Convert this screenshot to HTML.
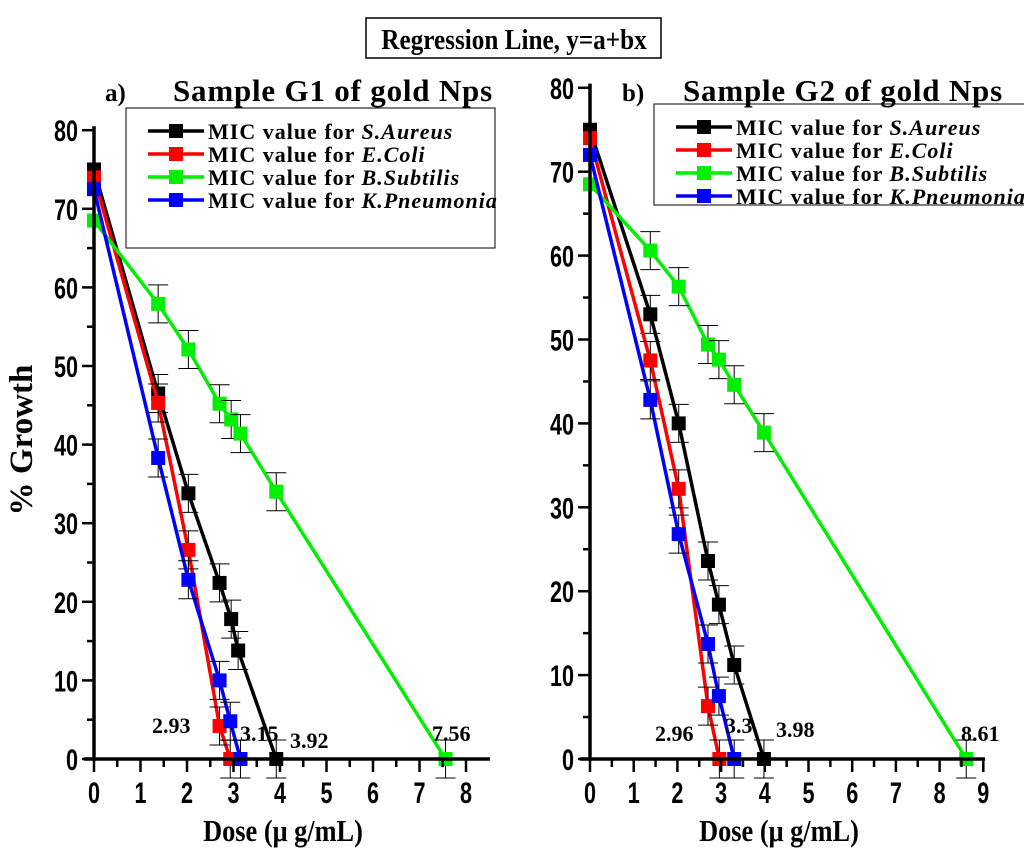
<!DOCTYPE html>
<html><head><meta charset="utf-8">
<style>
body{margin:0;background:#fff;}
svg{display:block;font-family:"Liberation Serif",serif;}
.tk{font-family:"Liberation Sans",sans-serif;font-weight:bold;font-size:30px;}
</style></head>
<body>
<svg id="c" width="1024" height="853" viewBox="0 0 1024 853">
<rect x="366" y="18" width="295" height="40" fill="#fff" stroke="#000" stroke-width="1.5"/>
<text x="0" y="0" transform="translate(514,49) scale(0.9,1)" text-anchor="middle" font-size="28" font-weight="bold">Regression Line,  y=a+bx</text>
<text x="32" y="440" transform="rotate(-90 32 440)" text-anchor="middle" font-size="33" font-weight="bold">% Growth</text>
</svg>
<script>
const species=["S.Aureus","E.Coli","B.Subtilis","K.Pneumonia"];
const colors=["#000000","#ff0000","#00ee00","#0000ff"];
const g1Black=[[0,75],[1.38,46.5],[2.03,33.8],[2.7,22.4],[2.95,17.8],[3.1,13.8],[3.92,0]];
const g1Red=[[0,74],[1.38,45.3],[2.03,26.6],[2.7,4.2],[2.93,0]];
const g1Green=[[0,68.5],[1.38,57.9],[2.03,52.1],[2.7,45.2],[2.95,43.2],[3.15,41.4],[3.92,34],[7.56,0]];
const g1Blue=[[0,72.5],[1.38,38.3],[2.03,22.8],[2.7,10],[2.93,4.8],[3.15,0]];
const g2Black=[[0,75],[1.38,53],[2.03,40],[2.7,23.6],[2.95,18.4],[3.3,11.2],[3.98,0]];
const g2Red=[[0,74],[1.38,47.5],[2.03,32.2],[2.7,6.3],[2.96,0]];
const g2Green=[[0,68.5],[1.38,60.6],[2.03,56.3],[2.7,49.4],[2.95,47.6],[3.3,44.6],[3.98,38.9],[8.61,0]];
const g2Blue=[[0,72],[1.38,42.8],[2.03,26.8],[2.7,13.7],[2.95,7.5],[3.3,0]];
const g1Mic=["2.93","3.15","3.92","7.56"];
const g2Mic=["2.96","3.3","3.98","8.61"];
const yTicks=[0,10,20,30,40,50,60,70,80];
const g1XTicks=[0,1,2,3,4,5,6,7,8];
const g2XTicks=[0,1,2,3,4,5,6,7,8,9];

const NS="http://www.w3.org/2000/svg";
const svg=document.getElementById('c');
function mk(tag,at,parent){const e=document.createElementNS(NS,tag);for(const k in at)e.setAttribute(k,at[k]);(parent||svg).appendChild(e);return e;}

function panel(o){
  const g=mk('g',{});
  
  
  const X=v=>o.x0+v*o.xs, Y=v=>o.y0-v*o.ys;
  const L=o.leg;
  const lb=mk('rect',{x:L.x,y:L.y,width:L.w,height:L.h,fill:'#fff',stroke:'#000','stroke-width':1},g);
  
  
  species.forEach((sp,i)=>{
    const yy=L.y+23+i*23;
    const en=mk('g',{},g);
    
    
    mk('line',{x1:L.x+22,x2:L.x+78,y1:yy,y2:yy,stroke:colors[i],'stroke-width':3.5},en);
    mk('rect',{x:L.x+43,y:yy-7,width:14,height:14,fill:colors[i]},en);
    const t=mk('text',{x:L.x+82,y:yy+8,'font-size':22,'font-weight':'bold','letter-spacing':1.0},en);
    t.innerHTML='MIC value for <tspan font-style="italic">'+sp+'</tspan>';
  });
  o.series.forEach((s,si)=>{
    const pts=s.map(p=>X(p[0])+','+Y(p[1])).join(' ');
    const l=mk('polyline',{points:pts,fill:'none',stroke:colors[si],'stroke-width':3.5},g);
    
    
    s.forEach((p,pi)=>{
      if(pi>0){
        const eb=mk('path',{d:`M${X(p[0])},${Y(p[1])-19}V${Y(p[1])+19}M${X(p[0])-10},${Y(p[1])-19}H${X(p[0])+10}M${X(p[0])-10},${Y(p[1])+19}H${X(p[0])+10}`,stroke:'#000','stroke-width':1,fill:'none'},g);
        
        
      }
      const r=mk('rect',{x:X(p[0])-7,y:Y(p[1])-7,width:14,height:14,fill:colors[si]},g);
      
      
    });
  });
  const ax=mk('path',{d:`M${o.x0},${o.y0-80.5*o.ys}V${o.y0+2}M${o.x0-10},${o.y0}H${o.xEnd}`,stroke:'#000','stroke-width':o.axW,fill:'none'},g);
  
  
  for(let v=0;v<=80;v+=5){
    mk('line',{x1:o.x0-(v%10?7:12),x2:o.x0,y1:Y(v),y2:Y(v),stroke:'#000','stroke-width':2.5},g);
  }
  yTicks.forEach(v=>{
    const t=mk('text',{x:0,y:0,'text-anchor':'end',class:'tk',transform:`translate(${o.x0-16},${Y(v)+11}) scale(0.72,1)`},g);
    t.textContent=v;
    
    
  });
  const maxX=o.xTicks[o.xTicks.length-1];
  for(let v=0;v<=maxX+0.01;v+=0.5){
    mk('line',{x1:X(v),x2:X(v),y1:o.y0,y2:o.y0+(v%1?8:13),stroke:'#000','stroke-width':2.5},g);
  }
  o.xTicks.forEach(v=>{
    const t=mk('text',{x:0,y:0,'text-anchor':'middle',class:'tk',transform:`translate(${X(v)},${o.y0+44}) scale(0.72,1)`},g);
    t.textContent=v;
    
    
  });
  const xt=mk('text',{x:0,y:0,'text-anchor':'middle','font-size':31,'font-weight':'bold',transform:`translate(${o.xtX},841) scale(0.85,1)`},g);
  xt.textContent='Dose (μ g/mL)';
  
  
  const pl=mk('text',{x:o.labX,y:101,'font-size':25,'font-weight':'bold'},g);
  pl.textContent=o.lab;
  
  
  const pt=mk('text',{x:o.titX,y:101,'font-size':31,'font-weight':'bold','letter-spacing':0.8},g);
  pt.textContent=o.title;
  
  
  o.micPos.forEach((m,i)=>{
    const t=mk('text',{x:m[0],y:m[1],'font-size':22,'font-weight':'bold'},g);
    t.textContent=o.mic[i];
    
    
  });
}
panel({name:'panel-a',x0:94,y0:759,xs:46.5,ys:7.86,xEnd:490,axW:3.5,xTicks:g1XTicks,
  series:[g1Black,g1Red,g1Green,g1Blue],mic:g1Mic,micPos:[[152,733],[240,741],[290,748],[432,741]],
  lab:'a)',labX:105,title:'Sample G1 of gold Nps',titX:173,xtX:283,
  leg:{x:126,y:108,w:369,h:140}});
panel({name:'panel-b',x0:590,y0:759,xs:43.7,ys:8.39,xEnd:985,axW:3.5,xTicks:g2XTicks,
  series:[g2Black,g2Red,g2Green,g2Blue],mic:g2Mic,micPos:[[655,741],[725,733],[776,737],[961,741]],
  lab:'b)',labX:622,title:'Sample G2 of gold Nps',titX:683,xtX:779,
  leg:{x:654,y:104,w:380,h:101}});
</script>
</body></html>
